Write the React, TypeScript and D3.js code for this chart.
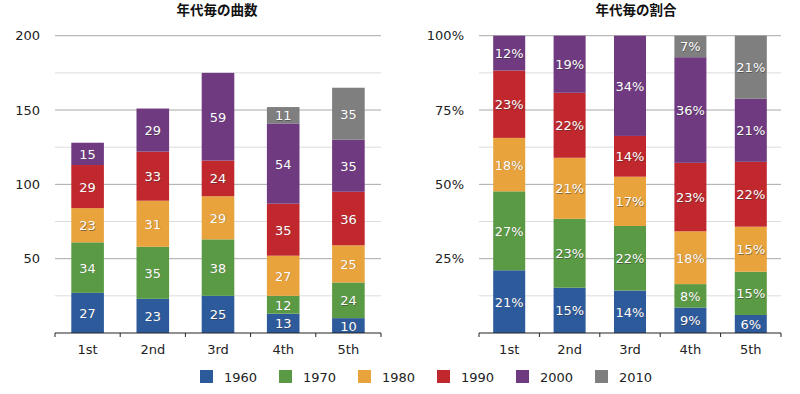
import React from 'react';
import * as d3 from 'd3';

// データ
const categories = ['1st', '2nd', '3rd', '4th', '5th'];
const decades = ['1960', '1970', '1980', '1990', '2000', '2010'];
const v1960 = [27, 23, 25, 13, 10];
const v1970 = [34, 35, 38, 12, 24];
const v1980 = [23, 31, 29, 27, 25];
const v1990 = [29, 33, 24, 35, 36];
const v2000 = [15, 29, 59, 54, 35];
const v2010 = [0, 0, 0, 11, 35];
const countTicks = [0, 50, 100, 150, 200];
const pctTicks = [0, 0.25, 0.5, 0.75, 1];

const colors = ['#2d5a9b', '#5b9a44', '#e9a33d', '#c1282d', '#6f3a80', '#7f7f7f'];
const FONT = '"DejaVu Sans", sans-serif';

const series = [v1960, v1970, v1980, v1990, v2000, v2010];
const rows = categories.map((c, i) => {
    const r: any = { cat: c };
    decades.forEach((d, k) => (r[d] = series[k][i]));
    return r;
});
const totals = categories.map((c, i) => d3.sum(series, s => s[i]));

function Panel({ left, right, title, titleX, expand }: any) {
    const top = 35.7, bottom = 333;
    const pad = expand ? 0.47 : 0.5;
    const x = d3.scaleBand().domain(categories).range([left, right])
        .paddingInner(pad).paddingOuter(pad / 2);
    const y = d3.scaleLinear().domain(expand ? [0, 1] : [0, 200]).range([bottom, top]);
    const stack = d3.stack<any>().keys(decades);
    if (expand) stack.offset(d3.stackOffsetExpand);
    const layers = stack(rows);
    const ticks = expand ? pctTicks : countTicks;
    const step = ticks[1] - ticks[0];
    const minor = ticks.slice(0, -1).map(t => t + step / 2);
    const fmt = expand ? d3.format('.0%') : d3.format('d');
    const slot = (right - left) / categories.length;

    return (
        <g>
            <text x={titleX} y={15} textAnchor="middle" fontSize={13.5} fontWeight="bold"
                fontFamily='"Noto Sans CJK JP", sans-serif' fill="#111">{title}</text>
            {minor.map(t => (
                <line key={'m' + t} x1={left} x2={right} y1={y(t)} y2={y(t)} stroke="#dcdcdc" />
            ))}
            {ticks.filter(t => t > 0).map(t => (
                <line key={'g' + t} x1={left} x2={right} y1={y(t)} y2={y(t)} stroke="#a8a8a8" />
            ))}
            {ticks.map(t => (
                <text key={'t' + t} x={left - 15} y={y(t) + 4.5} textAnchor="end" fontSize={13}
                    fontFamily={FONT} fill="#222">{t === 0 ? '' : fmt(t)}</text>
            ))}
            {layers.map((layer, k) => layer.map((d, i) => {
                if (series[k][i] === 0) return null;
                const y0 = y(d[0]), y1 = y(d[1]);
                const label = expand ? Math.round(series[k][i] / totals[i] * 100) + '%' : String(series[k][i]);
                const cx = x(categories[i])! + x.bandwidth() / 2;
                return (
                    <g key={k + '-' + i}>
                        <rect x={x(categories[i])} y={y1} width={x.bandwidth()} height={y0 - y1} fill={colors[k]} />
                        <text x={cx + 0.5} y={(y0 + y1) / 2 + 5.5}
                            textAnchor="middle" fontSize={13} fontFamily={FONT} fill="#333" opacity={0.5}>{label}</text>
                        <text x={cx} y={(y0 + y1) / 2 + 5}
                            textAnchor="middle" fontSize={13} fontFamily={FONT} fill="#fff">{label}</text>
                    </g>
                );
            }))}
            <line x1={left} x2={right} y1={bottom} y2={bottom} stroke="#222" />
            {d3.range(categories.length + 1).map(i => (
                <line key={'k' + i} x1={left + i * slot} x2={left + i * slot} y1={bottom} y2={bottom + 4} stroke="#222" />
            ))}
            {categories.map(c => (
                <text key={c} x={x(c)! + x.bandwidth() / 2} y={354} textAnchor="middle" fontSize={13}
                    fontFamily={FONT} fill="#222">{c}</text>
            ))}
        </g>
    );
}

export default function App() {
    const legendX = d3.scaleLinear().domain([0, 1]).range([200, 279]);
    return (
        <svg width={800} height={394} style={{ position: 'absolute', left: 0, top: 0 }}>
            <rect width={800} height={394} fill="#fff" />
            <Panel left={55} right={381} title="年代毎の曲数" titleX={217} expand={false} />
            <Panel left={479} right={781} title="年代毎の割合" titleX={636} expand={true} />
            {decades.map((d, k) => (
                <g key={d} transform={`translate(${legendX(k)},370)`}>
                    <rect width={13} height={13} fill={colors[k]} />
                    <text x={24} y={11.5} fontSize={13} fontFamily={FONT} fill="#222">{d}</text>
                </g>
            ))}
        </svg>
    );
}
